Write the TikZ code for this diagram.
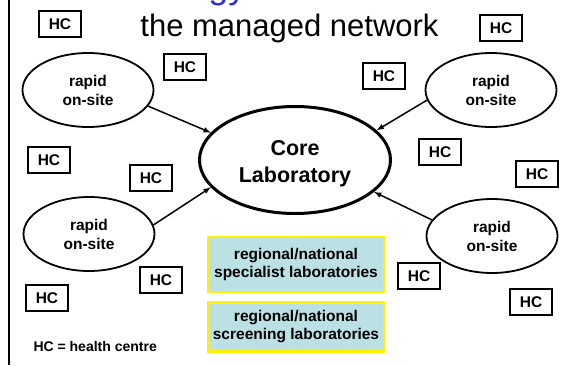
\documentclass[tikz,border=0pt]{standalone}
\usepackage{fontspec}
\setmainfont{Liberation Sans}
\usetikzlibrary{positioning,shapes.geometric}
\definecolor{labfill}{RGB}{188,225,229}
\definecolor{headblue}{RGB}{51,51,204}
\tikzset{hc/.style={draw, line width=1.4pt, minimum width=42pt, minimum height=26pt, inner sep=0pt, font=\bfseries\fontsize{15.5}{18}\selectfont},
% hc is the small square box of a health centre, all of them are the same size
site/.style={draw, ellipse, line width=1.8pt, minimum width=131pt, minimum height=74pt, inner sep=0pt, align=center, font=\bfseries\fontsize{15.5}{19}\selectfont},
% the site ellipses are the rapid on-site labs round the core
core/.style={draw, ellipse, line width=3pt, minimum width=191pt, minimum height=107pt, inner sep=0pt, align=center, font=\bfseries\fontsize{21.5}{27}\selectfont},
lab/.style={draw=yellow, fill=labfill, line width=2.5pt, minimum width=176pt, inner sep=0pt, align=center, font=\bfseries\fontsize{15.5}{18}\selectfont},
% the lab boxes have a yellow border and a pale blue fill
line/.style={-latex, line width=1.5pt}   % the arrows all point into the core lab
}
\begin{document}
\begin{tikzpicture}[x=1pt,y=-1pt]
    \useasboundingbox (0,0) rectangle (563,365);
    \draw[line width=2.5pt] (9,0) -- (9,365);
    \node[anchor=base east, text=headblue, font=\fontsize{36}{43}\selectfont] (head) at (250,-2) {Pathology};
    \node[anchor=base, font=\fontsize{31}{37}\selectfont] (title) at (289.5,36) {the managed network};
    \node[core] (core) at (295,160) {\rule{0pt}{23pt}Core\\Laboratory};
    \node[site] (tl) at (88,90) {rapid\\on-site};
    \node[site] (tr) at (491,90) {rapid\\on-site};
    \node[site] (bl) at (89,234) {rapid\\on-site};
    \node[site] (br) at (492,236) {rapid\\on-site};
    \node[hc] (hc1) at (60,24) {HC};
    \node[hc] (hc2) at (501,28) {HC};
    \node[hc] (hc3) at (185,67) {HC};
    \node[hc] (hc4) at (384,76) {HC};
    \node[hc] (hc5) at (49,160) {HC};
    \node[hc] (hc6) at (151,178) {HC};
    \node[hc] (hc7) at (440,152) {HC};
    \node[hc] (hc8) at (537,174) {HC};
    \node[hc] (hc9) at (161,280) {HC};
    \node[hc] (hc10) at (419,276) {HC};
    \node[hc] (hc11) at (47,298) {HC};
    \node[hc] (hc12) at (531,302) {HC};
    \node[lab, minimum height=55pt] (spec) at (296,264.5) {regional/national\\specialist laboratories};
    \node[lab, minimum height=49pt, below=8pt of spec] (screen) {regional/national\\screening laboratories};
    \node[anchor=base west, font=\bfseries\fontsize{14}{17}\selectfont] (key) at (30,351) {HC = health centre};
    \draw[line] (tl.-15) -- (core.162);
    \draw[line] (tr.189) -- (core.20);
    \draw[line] (bl.8) -- (core.198);
    \draw[line] (br.165) -- (core.-22);
  \end{tikzpicture}
\end{document}
